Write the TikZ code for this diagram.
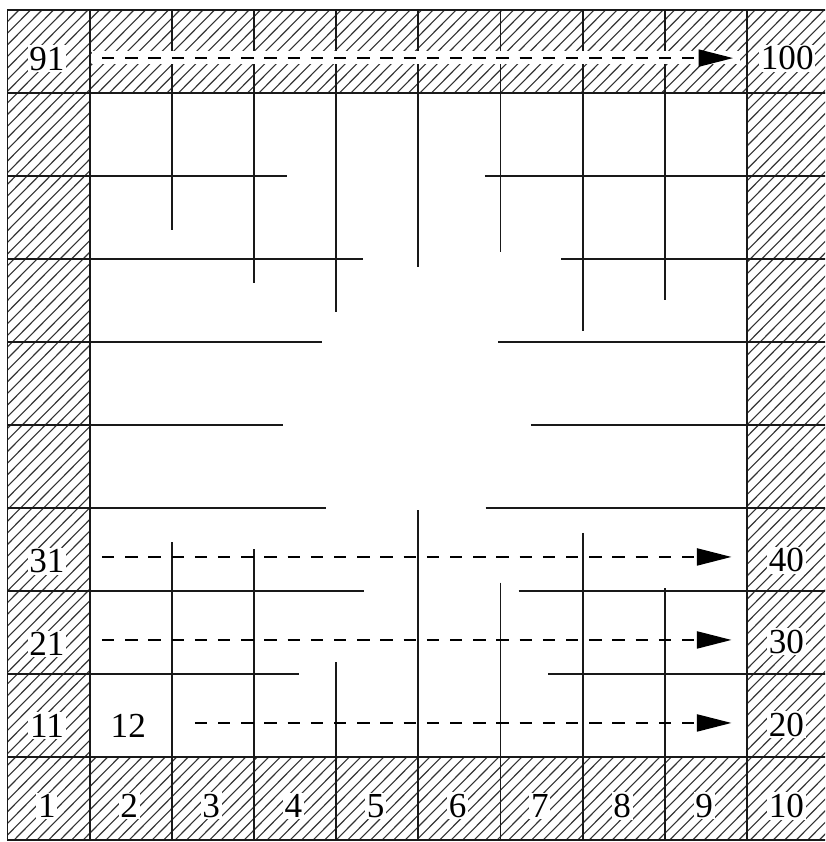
\documentclass[tikz,border=0pt]{standalone}
\usepackage{fontspec}
\setmainfont{Liberation Serif}
\usetikzlibrary{arrows.meta}

\begin{document}
\begin{tikzpicture}[
    x=2.054cm, y=2.075cm,
    wall/.style={line width=1.2pt, draw=black!90},
    hatchline/.style={line width=0.8pt, draw=black!80},
    num/.style={fill=white, inner sep=1.2pt, font=\fontsize{25}{27}\selectfont},
    flow/.style={line width=0.9pt, dash pattern=on 3.1mm off 2.7mm, -{Triangle[length=8.6mm, width=4.3mm]}},
]
\clip (-0.0913,-0.0241) rectangle (9.95,10.12);

% hatched border cells
\begin{scope}
    \clip (0,0) -- (10,0) -- (10,10) -- (0,10) -- cycle
          (1,1) -- (1,9) -- (9,9) -- (9,1) -- cycle;
    \foreach \c in {-10,-9.86,...,10} {
        \draw[hatchline] (\c,0) -- ({\c+10},10);
    }
\end{scope}

% grid of the border
\draw[wall] (0,0) rectangle (10,10);
\draw[wall] (1,0) -- (1,10) (9,0) -- (9,10) (0,1) -- (10,1) (0,9) -- (10,9);
\foreach \i in {2,...,8} {
    \draw[wall] (\i,0) -- (\i,1) (\i,9) -- (\i,10);
    \draw[wall] (0,\i) -- (1,\i) (9,\i) -- (10,\i);
}

% inner walls
\foreach \y/\a/\b in {8/3.40/5.81, 7/4.33/6.74, 6/3.83/5.97, 5/3.35/6.37, 4/3.88/5.82, 3/4.34/6.22, 2/3.55/6.58} {
    \draw[wall] (1,\y) -- (\a,\y) (\b,\y) -- (9,\y);
}
\foreach \x/\a/\b in {2/7.35/3.59, 3/6.71/3.50, 4/6.36/2.14, 5/6.90/3.97, 6/7.08/3.10, 7/6.13/3.70, 8/6.50/3.03} {
    \draw[wall] (\x,9) -- (\x,\a) (\x,\b) -- (\x,1);
}

% numbers
\foreach \i in {1,...,10} {
    \node[num] (n\i) at (\i-0.52,0.41) {\i};
}
\node[num] (n11) at (0.48,1.38) {11};
\node[num] (n12) at (1.47,1.37) {12};
\node[num] (n20) at (9.48,1.39) {20};
\node[num] (n21) at (0.48,2.36) {21};
\node[num] (n30) at (9.48,2.39) {30};
\node[num] (n31) at (0.48,3.36) {31};
\node[num] (n40) at (9.48,3.37) {40};
\node[num] (n91) at (0.48,9.41) {91};
\node[num] (n100) at (9.49,9.42) {100};

% sweep direction
\coordinate (a1) at (2.28,1.41);  \coordinate (b1) at (8.81,1.41);
\coordinate (a2) at (1.15,2.41);  \coordinate (b2) at (8.81,2.41);
\coordinate (a3) at (1.15,3.41);  \coordinate (b3) at (8.81,3.41);
\coordinate (a9) at (1.15,9.42);  \coordinate (b9) at (8.83,9.42);
\fill[white] (1.03,9.345) rectangle (8.92,9.50);
\foreach \r in {1,2,3,9} {
    \draw[flow] (a\r) -- (b\r);
}

\end{tikzpicture}
\end{document}
